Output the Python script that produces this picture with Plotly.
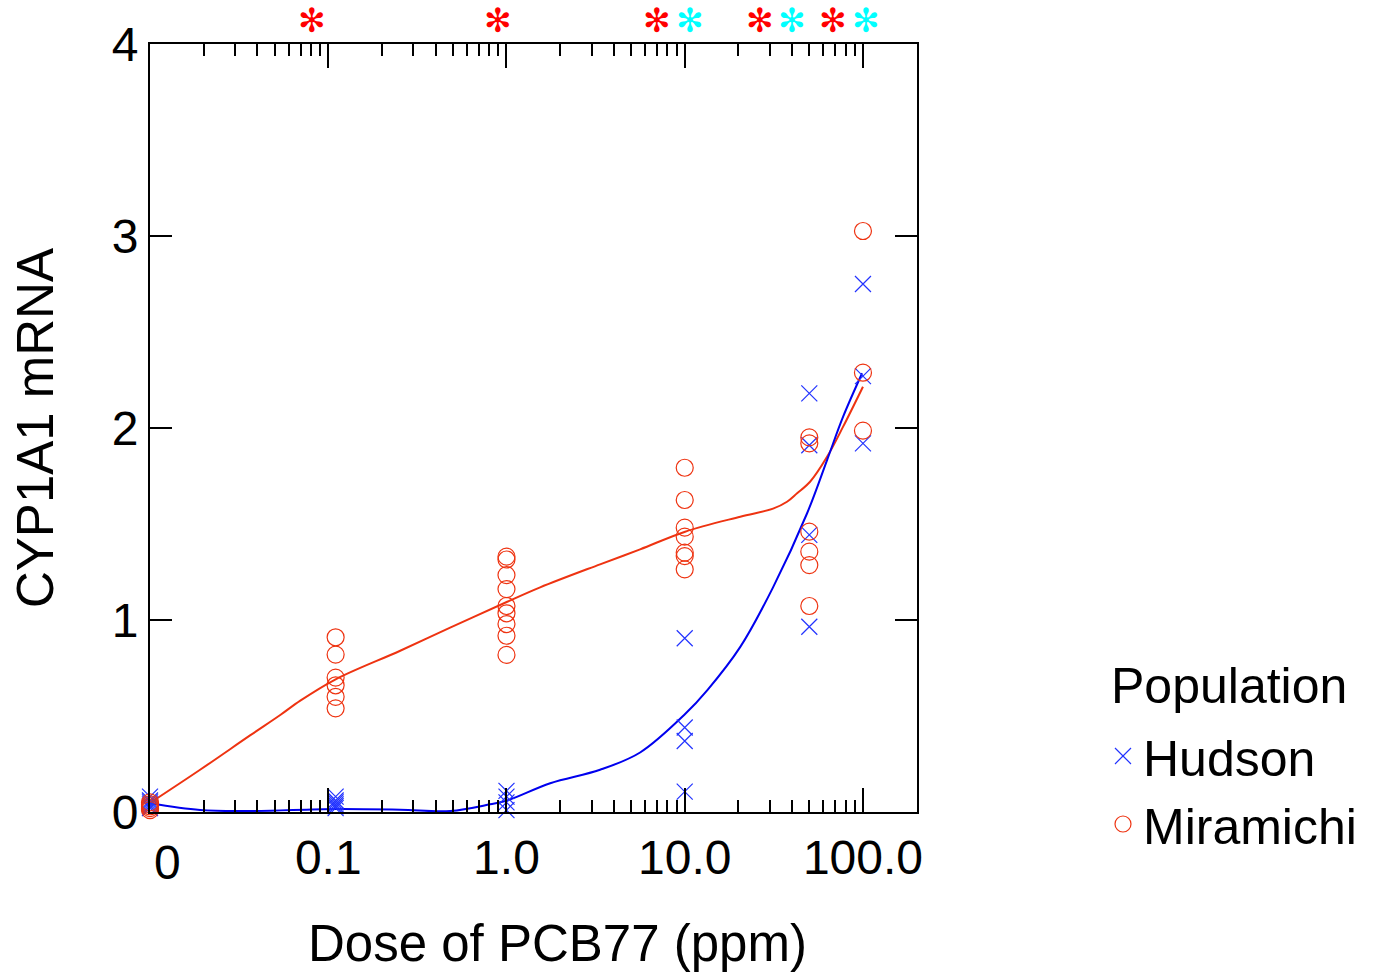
import numpy as np
import plotly.graph_objects as go

# ---- data ----
ZERO_POS = 0.01  # where dose 0 is drawn on the log axis

hud_dose = [0]*6 + [0.11]*6 + [1]*4 + [10]*4 + [50]*4 + [100]*3
hud_val = [0.08, 0.06, 0.05, 0.04, 0.03, 0.02,
           0.08, 0.06, 0.05, 0.04, 0.03, 0.02,
           0.11, 0.08, 0.05, 0.01,
           0.905, 0.44, 0.37, 0.106,
           2.18, 1.91, 1.443, 0.965,
           2.75, 2.27, 1.92]

mir_dose = [0]*5 + [0.11]*6 + [1]*9 + [10]*7 + [50]*6 + [100]*3
mir_val = [0.05, 0.04, 0.03, 0.02, 0.01,
           0.91, 0.82, 0.70, 0.66, 0.60, 0.54,
           1.33, 1.315, 1.234, 1.161, 1.073, 1.035, 0.979, 0.918, 0.818,
           1.793, 1.625, 1.481, 1.434, 1.351, 1.333, 1.264,
           1.951, 1.920, 1.460, 1.356, 1.286, 1.073,
           3.026, 2.288, 1.986]

mir_fit_x = [0.01, 0.0191, 0.0366, 0.0538, 0.0697, 0.1094, 0.2534, 0.483, 1.01, 1.545,
             3.35, 5.62, 10.05, 20.5, 31.3, 37.5, 42.7, 50.5, 62.9, 77.4, 100]
mir_fit_y = [0.047, 0.22, 0.40, 0.505, 0.58, 0.69, 0.84, 0.96, 1.095, 1.17,
             1.29, 1.368, 1.46, 1.538, 1.58, 1.616, 1.66, 1.72, 1.85, 2.007, 2.215]

hud_fit_x = [0.01, 0.0191, 0.0366, 0.1094, 0.2534, 0.483, 0.81, 1.01, 1.76, 3.35,
             5.62, 10.05, 13.4, 20.5, 31.3, 48.6, 62.9, 77.4, 98.9]
hud_fit_y = [0.045, 0.01, 0.005, 0.016, 0.012, 0.005, 0.04, 0.06, 0.15, 0.22,
             0.31, 0.51, 0.635, 0.86, 1.17, 1.556, 1.833, 2.059, 2.285]

sig_red_x = [0.0815, 0.898, 7.0, 26.5, 68]
sig_cyan_x = [10.7, 40, 104]

x_major = [0.1, 1, 10, 100]
x_major_text = ["0.1", "1.0", "10.0", "100.0"]
x_minor = [m * d for d in [0.01, 0.1, 1, 10] for m in range(2, 10)]
y_ticks = [0, 1, 2, 3, 4]

FONT = "Liberation Sans, Arial, sans-serif"
RED = "#EE3311"
BLUE = "#0000EE"
XBLUE = "#2233FF"

PLOT_W = 767
PLOT_H = 768
TOP_M = 44
LEFT_M = 150


def pos(d):
    return [ZERO_POS if v == 0 else v for v in d]


fig = go.Figure()
fig.add_trace(go.Scatter(x=mir_fit_x, y=mir_fit_y, mode="lines",
                         line=dict(color=RED, width=2, shape="spline"),
                         showlegend=False, cliponaxis=False))
fig.add_trace(go.Scatter(x=hud_fit_x, y=hud_fit_y, mode="lines",
                         line=dict(color=BLUE, width=2, shape="spline"),
                         showlegend=False, cliponaxis=False))
fig.add_trace(go.Scatter(x=pos(hud_dose), y=hud_val, mode="markers", name="Hudson",
                         marker=dict(symbol="x-thin-open", size=16, color=XBLUE,
                                     line=dict(color=XBLUE, width=1.2)),
                         cliponaxis=False))
fig.add_trace(go.Scatter(x=pos(mir_dose), y=mir_val, mode="markers", name="Miramichi",
                         marker=dict(symbol="circle-open", size=17, color=RED,
                                     line=dict(color=RED, width=1.2)),
                         cliponaxis=False))

# significance asterisks above the plot
for xs, col in [(sig_red_x, "#FF0000"), (sig_cyan_x, "#00FFFF")]:
    for xv in xs:
        fig.add_annotation(x=np.log10(xv), y=1 + (TOP_M - 21) / PLOT_H, yref="paper", xref="x",
                           text="✻", showarrow=False,
                           font=dict(family="DejaVu Sans", size=33, color=col),
                           xanchor="center", yanchor="middle")

# "0" tick label for the zero-dose position
fig.add_annotation(x=np.log10(ZERO_POS), y=0, yref="paper", xref="x", text="0",
                   showarrow=False, xshift=17, yshift=-22, xanchor="center", yanchor="top",
                   font=dict(family=FONT, size=48, color="black"))

# x-axis title (offset to the right as in the reference)
fig.add_annotation(x=(557 - LEFT_M) / PLOT_W, y=-(943 - 812) / PLOT_H, xref="paper", yref="paper",
                   text="Dose of PCB77 (ppm)", showarrow=False, xanchor="center", yanchor="middle",
                   font=dict(family=FONT, size=51, color="black"))

# legend title
fig.add_annotation(x=1.2503, y=(812 - 686) / PLOT_H, xref="paper", yref="paper",
                   text="Population", showarrow=False, xanchor="left", yanchor="middle",
                   font=dict(family=FONT, size=50, color="black"))

fig.update_xaxes(type="log", range=[-2, np.log10(201)], automargin=False,
                 tickvals=x_major, ticktext=x_major_text,
                 ticks="inside", ticklen=24, tickwidth=2, tickcolor="black",
                 ticklabelstandoff=2,
                 minor=dict(tickvals=x_minor, ticks="inside", ticklen=12,
                            tickwidth=2, tickcolor="black", showgrid=False),
                 showline=True, linecolor="black", linewidth=2, mirror="ticks",
                 showgrid=False, zeroline=False,
                 tickfont=dict(family=FONT, size=48, color="black"))
fig.update_yaxes(range=[0, 4], tickvals=y_ticks, automargin=False,
                 ticks="inside", ticklen=22, tickwidth=2, tickcolor="black",
                 showline=True, linecolor="black", linewidth=2, mirror="ticks",
                 showgrid=False, zeroline=False,
                 tickfont=dict(family=FONT, size=48, color="black"),
                 title=dict(text="CYP1A1 mRNA", standoff=42,
                            font=dict(family=FONT, size=51, color="black")))

fig.update_layout(width=1374, height=974,
                  margin=dict(l=LEFT_M, r=457, t=TOP_M, b=162),
                  plot_bgcolor="white", paper_bgcolor="white",
                  font=dict(family=FONT, size=48, color="black"),
                  legend=dict(x=1.2425, y=(812 - 717) / PLOT_H, xanchor="left", yanchor="top",
                              font=dict(family=FONT, size=50),
                              itemsizing="trace", tracegroupgap=0,
                              bgcolor="rgba(0,0,0,0)"))

fig.write_html("out.html", config={"displayModeBar": False},
               post_script="document.body.style.margin='0px';")
